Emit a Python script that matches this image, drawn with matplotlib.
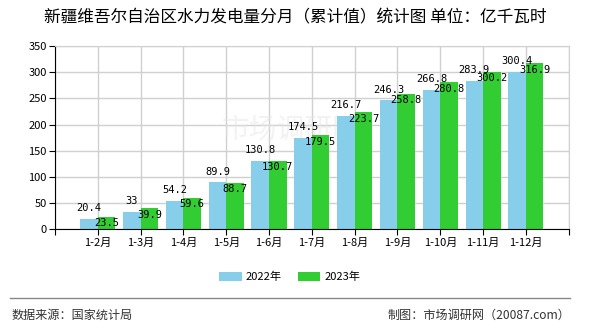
import matplotlib.pyplot as plt
from matplotlib.lines import Line2D

plt.rcParams['font.family'] = ['Noto Sans CJK SC', 'DejaVu Sans']

meses = ['1-2月', '1-3月', '1-4月', '1-5月', '1-6月', '1-7月',
         '1-8月', '1-9月', '1-10月', '1-11月', '1-12月']
valores_2022 = [20.4, 33, 54.2, 89.9, 130.8, 174.5, 216.7, 246.3, 266.8, 283.9, 300.4]
valores_2023 = [23.5, 39.9, 59.6, 88.7, 130.7, 179.5, 223.7, 258.8, 280.8, 300.2, 316.9]

fig = plt.figure(figsize=(5.9, 3.3), dpi=100)
ax = fig.add_axes([0.0932, 0.3052, 0.8707, 0.5554])

pos = list(range(1, len(meses) + 1))
largura = 0.41
b1 = ax.bar([p - largura / 2 for p in pos], valores_2022, largura,
            color='#87CEEB', label='2022年', zorder=2)
b2 = ax.bar([p + largura / 2 for p in pos], valores_2023, largura,
            color='#32CD32', label='2023年', zorder=2)

# marca d'água, bem clara, atrás das barras
ax.text(0.46, 0.54, '市场调研网', transform=ax.transAxes, fontsize=20,
        color='#e6e6e6', alpha=0.5, ha='center', va='center', zorder=1)

# rótulos dos valores
for p, v in zip(pos, valores_2022):
    ax.annotate(f'{v:g}', (p - largura / 2, v), xytext=(0, 4),
                textcoords='offset points', ha='center', va='bottom',
                fontsize=7.5, family='DejaVu Sans Mono', zorder=3)
for p, v in zip(pos, valores_2023):
    ax.annotate(f'{v:g}', (p + largura / 2, v), xytext=(0, -1),
                textcoords='offset points', ha='center', va='top',
                fontsize=7.5, family='DejaVu Sans Mono', zorder=3)

ax.set_xlim(0, 12)
ax.set_ylim(0, 350)
ax.set_xticks(range(0, 13))
ax.set_xticklabels([''] + meses + [''], fontsize=8)
ax.set_yticks(range(0, 351, 50))
ax.tick_params(axis='y', labelsize=8, length=4, color='black', pad=2)
ax.tick_params(axis='x', length=4, color='black', pad=2)
ax.grid(True, color='#d0d0d0', linewidth=1, zorder=0)
ax.set_axisbelow(True)
for lado in ['top', 'right']:
    ax.spines[lado].set_color('#d0d0d0')
ax.spines['left'].set_color('black')
ax.spines['bottom'].set_color('black')

fig.text(0.5, 0.945, '新疆维吾尔自治区水力发电量分月（累计值）统计图 单位：亿千瓦时',
         ha='center', va='center', fontsize=12)

fig.legend(handles=[b1, b2], loc='center', bbox_to_anchor=(0.4915, 0.161), ncol=2,
           frameon=False, fontsize=8, handlelength=2.0, handleheight=0.9,
           columnspacing=1.45, handletextpad=0.4)

fig.add_artist(Line2D([0.017, 0.966], [0.097, 0.097], color='#888888', linewidth=1))
fig.text(0.02, 0.045, '数据来源：国家统计局', fontsize=8.7, color='#333333',
         ha='left', va='center')
fig.text(0.966, 0.045, '制图：市场调研网（20087.com）', fontsize=8.7, color='#333333',
         ha='right', va='center')

plt.savefig('out.png', dpi=100)
